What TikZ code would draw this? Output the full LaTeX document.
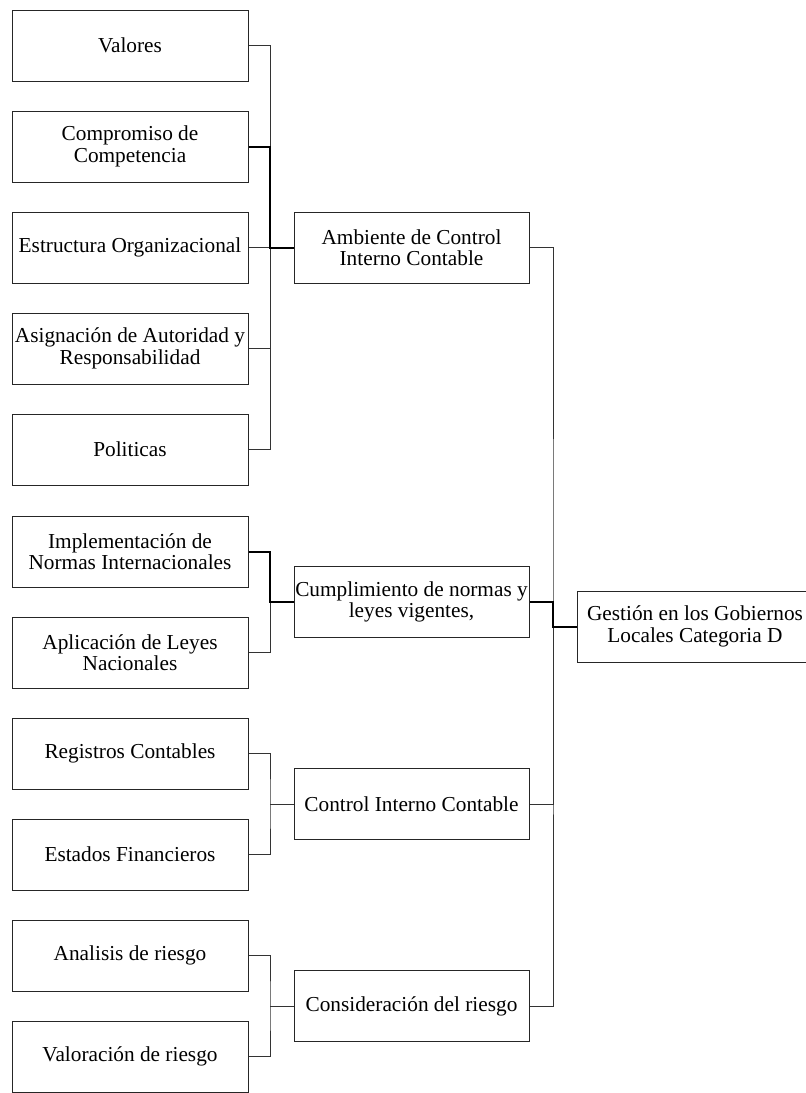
\documentclass[tikz,border=0pt]{standalone}
\usepackage{fontspec}
\setmainfont{Liberation Serif}
\begin{document}
\begin{tikzpicture}[x=1pt,y=-1pt,
  box/.style={draw=black!85, line width=1pt, minimum width=236pt, minimum height=71pt,
    inner sep=0pt, align=center, font=\fontsize{21.3}{21.5}\selectfont},
  conn/.style={draw=black!80, line width=1pt},
  hconn/.style={draw=black, line width=2pt}]
\useasboundingbox (0,0) rectangle (806,1093);
\clip (0,0) rectangle (806,1093);
% left column
\node[box] (valores)     at (130,45.5)   {Valores};
\node[box] (compromiso)  at (130,146.5)  {Compromiso de\\Competencia};
\node[box] (estructura)  at (130,247.5)  {Estructura Organizacional};
\node[box] (asignacion)  at (130,348.5)  {Asignación de Autoridad y\\Responsabilidad};
\node[box] (politicas)   at (130,449.5)  {Politicas};
\node[box] (implement)   at (130,551.5)  {Implementación de\\Normas Internacionales};
\node[box] (aplicacion)  at (130,652.5)  {Aplicación de Leyes\\Nacionales};
\node[box] (registros)   at (130,753.5)  {Registros Contables};
\node[box] (estados)     at (130,854.5)  {Estados Financieros};
\node[box] (analisis)    at (130,955.5)  {Analisis de riesgo};
\node[box] (valoracion)  at (130,1056.5) {Valoración de riesgo};
% middle column
\node[box, minimum width=235pt] (ambiente)  at (411.5,247.5) {Ambiente de Control\\Interno Contable};
\node[box, minimum width=235pt] (cumpl)     at (411.5,602)   {Cumplimiento de normas y\\leyes vigentes,};
\node[box, minimum width=235pt] (control)   at (411.5,804)   {Control Interno Contable};
\node[box, minimum width=235pt] (consid)    at (411.5,1006)  {Consideración del riesgo};
% right
\node[box] (gestion) at (695,626.5) {Gestión en los Gobiernos\\Locales Categoria D};
% junctions
\coordinate (j1) at (270,247.5);
\coordinate (j2) at (270,602);
\coordinate (j3) at (270,804);
\coordinate (j4) at (270,1006);
\coordinate (jr) at (553,626.5);
% group 1
\draw[conn] (valores.east) -| (j1) |- (politicas.east);
\draw[conn] (estructura.east) -- (j1);
\draw[conn] (asignacion.east) -| (j1);
\draw[hconn] (compromiso.east) -| (j1) -- (ambiente.west);
% group 2
\draw[conn] (aplicacion.east) -| (j2);
\draw[hconn] (implement.east) -| (j2) -- (cumpl.west);
% group 3
\draw[conn] (registros.east) -| (j3) |- (estados.east);
\draw[conn] (j3) -- (control.west);
% group 4
\draw[conn] (analisis.east) -| (j4) |- (valoracion.east);
\draw[conn] (j4) -- (consid.west);
% right trunk
\draw[conn] (ambiente.east) -| (jr) |- (consid.east);
\draw[conn] (control.east) -| (jr);
\draw[hconn] (cumpl.east) -| (jr) -- (gestion.west);
\end{tikzpicture}
\end{document}
